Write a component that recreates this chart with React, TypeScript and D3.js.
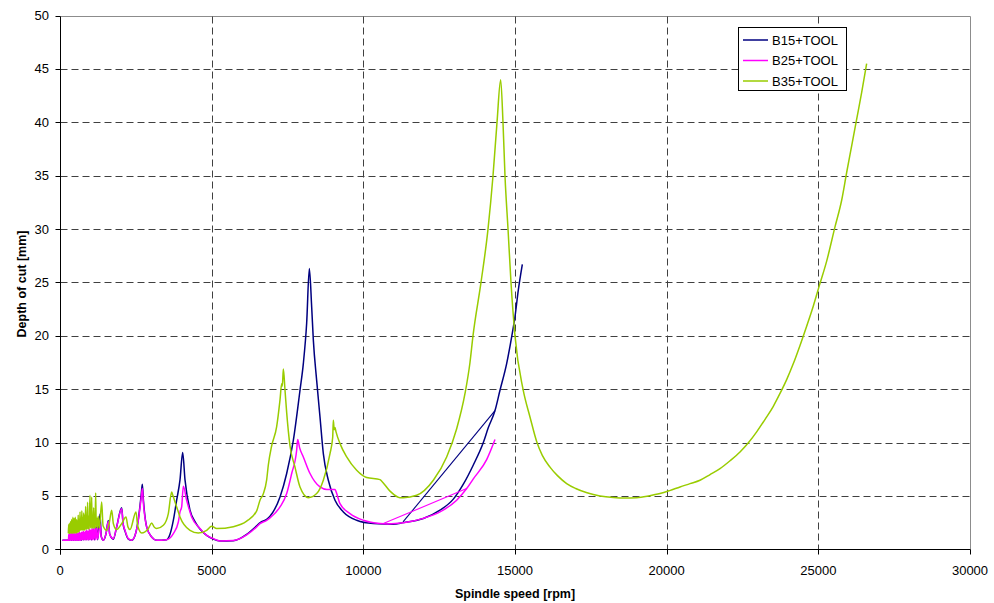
import React from "react";
import * as d3 from "d3";

type P = [number, number];

const xTicks = [0, 5000, 10000, 15000, 20000, 25000, 30000];
const yTicks = [0, 5, 10, 15, 20, 25, 30, 35, 40, 45, 50];
const seriesNames = ["B15+TOOL", "B25+TOOL", "B35+TOOL"];
const seriesColors = ["#000080", "#FF00FF", "#99CC00"];

const b15: P[] = [
  [80, 0.85], [280, 0.85], [300, 1.3], [320, 0.85], [350, 1.4], [380, 0.85], [410, 1.4], [440, 0.85],
  [470, 1.4], [500, 0.85], [530, 1.4], [560, 0.85], [600, 1.4], [620, 0.85], [680, 1.4], [700, 0.85],
  [760, 1.5], [780, 0.9], [840, 1.5], [860, 0.9], [920, 1.6], [950, 0.9], [1010, 1.7], [1040, 0.9],
  [1100, 1.9], [1140, 0.9], [1200, 2.2], [1240, 0.9], [1320, 3.3], [1360, 1.2], [1429, 0.85], [1520, 1.5],
  [1593, 2.7], [1640, 1.4], [1758, 0.95], [1868, 2.1], [2033, 3.9], [2080, 2.4], [2143, 1.7], [2253, 0.95],
  [2363, 0.85], [2473, 1.3], [2582, 2.8], [2680, 5.2], [2714, 6.1], [2750, 4.6], [2857, 2.1], [3022, 1.15],
  [3187, 0.84], [3516, 0.9], [3626, 1.4], [3736, 2.7], [3846, 4.6], [3956, 6.5], [4044, 9.07], [4121, 6.5],
  [4286, 3.66], [4450, 2.6], [4615, 1.9], [4835, 1.3], [5055, 0.95], [5275, 0.78], [5714, 0.8], [6154, 1.4],
  [6484, 2.2], [6600, 2.5], [6813, 2.8], [6923, 3.1], [7253, 4.9], [7473, 7.1], [7692, 10.2], [7912, 14.9],
  [8022, 17.4], [8132, 21.2], [8220, 26.3], [8297, 22.7], [8352, 19.6], [8462, 15.8], [8571, 12.4],
  [8681, 8.97], [8846, 6.47], [9066, 4.6], [9341, 3.5], [9780, 2.72], [10330, 2.41], [10989, 2.34],
  [11318, 2.5], [11978, 2.88], [12527, 3.66], [12967, 4.7], [13297, 6.1], [13626, 7.9], [13956, 10.0],
  [14121, 11.4], [14341, 13.0], [14505, 14.9], [14725, 17.4], [14890, 19.9], [15000, 21.8], [15110, 24.3],
  [15242, 26.7],
];
const b15Jump: P[] = [[11308, 2.56], [14341, 13.0]];

const b25: P[] = [
  [80, 0.85], [280, 0.85], [290, 1.4], [300, 0.85], [315, 1.5], [330, 0.85], [345, 1.4], [360, 0.85],
  [375, 1.5], [390, 0.85], [405, 1.4], [420, 0.85], [435, 1.5], [450, 0.85], [465, 1.4], [480, 0.85],
  [495, 1.5], [510, 0.85], [525, 1.4], [540, 0.85], [555, 1.5], [570, 0.85], [585, 1.5], [600, 0.85],
  [615, 1.5], [630, 0.85], [645, 1.6], [660, 0.85], [675, 1.5], [690, 0.85], [705, 1.6], [720, 0.9],
  [740, 1.6], [755, 0.9], [775, 1.7], [790, 0.9], [810, 1.6], [825, 0.9], [845, 1.7], [860, 0.9],
  [880, 1.8], [900, 0.9], [920, 1.7], [940, 0.9], [965, 1.9], [985, 0.9], [1010, 1.8], [1030, 0.9],
  [1055, 2.0], [1075, 0.9], [1100, 1.9], [1125, 0.9], [1155, 2.1], [1180, 0.9], [1210, 2.0], [1240, 0.95],
  [1319, 2.4], [1360, 1.2], [1429, 0.85], [1520, 1.5], [1593, 2.6], [1640, 1.4], [1758, 1.0], [1868, 2.1],
  [2033, 3.8], [2080, 2.4], [2143, 1.78], [2253, 1.0], [2363, 0.85], [2473, 1.31], [2582, 2.72],
  [2680, 4.9], [2714, 5.69], [2750, 4.3], [2857, 2.09], [3022, 1.15], [3187, 0.84], [3516, 0.9],
  [3736, 1.47], [3901, 2.56], [3956, 3.5], [4011, 3.97], [4066, 5.9], [4176, 4.6], [4341, 3.03],
  [4615, 1.94], [4835, 1.3], [5055, 1.0], [5275, 0.78], [5714, 0.82], [6154, 1.35], [6484, 2.1],
  [6593, 2.4], [6813, 2.72], [6923, 2.95], [7253, 3.97], [7473, 5.22], [7638, 7.1], [7802, 9.28],
  [7835, 10.28], [7900, 9.5], [8022, 8.65], [8242, 7.1], [8571, 5.84], [8800, 5.6], [9066, 5.6],
  [9100, 5.4], [9231, 4.28], [9560, 3.35], [10000, 2.72], [10549, 2.41], [10800, 2.38], [11318, 2.48],
  [11978, 2.9], [12527, 3.5], [13077, 4.6], [13407, 5.69], [13626, 6.6], [14066, 8.4], [14341, 10.28],
];
const b25Jump: P[] = [[10659, 2.41], [13407, 5.69]];

const b35: P[] = [
  [275, 1.5], [285, 2.3], [295, 1.5], [305, 2.4], [315, 1.5], [325, 2.2], [335, 1.5], [345, 2.6],
  [355, 1.6], [365, 2.3], [375, 1.5], [385, 2.8], [395, 1.6], [405, 2.5], [415, 1.5], [425, 3.0],
  [435, 1.6], [445, 2.7], [455, 1.5], [465, 2.9], [475, 1.6], [485, 2.6], [495, 1.5], [505, 3.0],
  [515, 1.6], [525, 2.7], [535, 1.5], [545, 2.8], [555, 1.6], [570, 2.6], [585, 1.6], [600, 3.2],
  [615, 1.6], [630, 2.8], [645, 1.7], [660, 3.5], [675, 1.8], [690, 2.9], [705, 1.8], [720, 3.6],
  [735, 1.8], [750, 2.9], [765, 1.8], [780, 3.4], [795, 1.8], [810, 3.2], [825, 1.8], [845, 4.0],
  [860, 1.9], [875, 3.0], [890, 1.9], [910, 4.4], [925, 1.9], [945, 3.1], [960, 1.9], [989, 5.06],
  [1005, 2.0], [1020, 3.4], [1030, 2.0], [1044, 4.9], [1060, 2.0], [1075, 3.0], [1090, 2.0],
  [1110, 3.9], [1125, 2.0], [1140, 2.8], [1155, 2.0], [1176, 5.28], [1195, 2.1], [1220, 2.9],
  [1240, 2.0], [1260, 3.1], [1300, 2.0], [1374, 4.43], [1420, 2.2], [1538, 1.78], [1620, 2.4],
  [1703, 3.66], [1760, 2.4], [1868, 1.85], [2033, 2.4], [2176, 3.03], [2240, 2.1], [2308, 1.85],
  [2505, 3.5], [2560, 2.2], [2692, 1.53], [2912, 1.94], [3022, 2.47], [3100, 2.1], [3187, 1.94],
  [3407, 2.25], [3571, 3.35], [3681, 5.37], [3714, 5.1], [3846, 3.97], [3956, 3.03], [4286, 1.78],
  [4560, 1.53], [4835, 1.78], [5000, 2.16], [5165, 1.94], [5714, 2.12], [6154, 2.64], [6484, 3.6],
  [6593, 4.6], [6703, 5.2], [6813, 6.5], [6868, 7.9], [6978, 9.7], [7143, 11.5], [7253, 14.0],
  [7308, 15.5], [7330, 15.3], [7363, 16.9], [7418, 14.9], [7473, 12.8], [7582, 9.7], [7747, 7.7],
  [7912, 5.84], [8187, 4.84], [8462, 5.22], [8681, 6.47], [8901, 8.97], [8990, 10.5], [9011, 12.1],
  [9040, 11.2], [9066, 11.4], [9100, 11.0], [9231, 9.9], [9451, 8.65], [9780, 7.4], [10110, 6.72],
  [10549, 6.53], [10600, 6.4], [10879, 5.45], [11209, 4.84], [11318, 4.84], [11758, 5.06],
  [12308, 6.47], [12747, 8.65], [13077, 11.3], [13352, 14.6], [13516, 17.5], [13615, 20.0],
  [13879, 25.0], [14110, 30.0], [14275, 35.0], [14407, 40.0], [14527, 44.0], [14604, 40.0],
  [14670, 35.0], [14770, 30.0], [14868, 25.0], [15000, 20.0], [15264, 15.0], [15494, 12.4],
  [15725, 10.0], [15900, 8.8], [16154, 7.7], [16400, 6.9], [16703, 6.16], [17000, 5.7], [17374, 5.3],
  [17800, 5.0], [18242, 4.85], [18600, 4.8], [19011, 4.84], [19400, 5.0], [19780, 5.22], [20100, 5.5],
  [20440, 5.84], [20770, 6.15], [21099, 6.47], [21430, 7.0], [21758, 7.56], [22090, 8.3],
  [22418, 9.12], [22700, 10.0], [22967, 11.0], [23250, 12.2], [23516, 13.4], [23736, 14.6],
  [23956, 15.9], [24176, 17.4], [24396, 19.1], [24615, 20.9], [24835, 22.8], [25033, 24.7],
  [25275, 27.0], [25549, 30.2], [25769, 32.7], [25934, 35.3], [26099, 37.8], [26264, 40.3],
  [26429, 42.8], [26593, 45.5],
];

const W = 994;
const H = 603;
const font = "'Liberation Sans', Arial, sans-serif";

export default function App() {
  const x = d3.scaleLinear().domain([0, 30000]).range([60, 970]);
  const y = d3.scaleLinear().domain([0, 50]).range([549.3, 15.6]);
  const smooth = d3
    .line<P>()
    .x((d) => x(d[0]))
    .y((d) => y(d[1]))
    .curve(d3.curveMonotoneX);
  const straight = d3
    .line<P>()
    .x((d) => x(d[0]))
    .y((d) => y(d[1]));
  const px = (v: number) => Math.round(x(v)) + 0.5;
  const py = (v: number) => Math.round(y(v)) + 0.5;
  const left = px(0);
  const right = px(30000);
  const top = py(50);
  const bottom = py(0);

  const series: { data: P[]; jump?: P[]; color: string }[] = [
    { data: b15, jump: b15Jump, color: seriesColors[0] },
    { data: b25, jump: b25Jump, color: seriesColors[1] },
    { data: b35, color: seriesColors[2] },
  ];

  return (
    <svg
      width={W}
      height={H}
      style={{ position: "absolute", left: 0, top: 0, background: "#fff" }}
      fontFamily={font}
    >
      <rect x={0} y={0} width={W} height={H} fill="#fff" />
      <line x1={left} x2={right} y1={top} y2={top} stroke="#8c8c8c" strokeWidth={1} />
      <line x1={right} x2={right} y1={top} y2={bottom} stroke="#8c8c8c" strokeWidth={1} />
      {yTicks.slice(1, -1).map((v) => (
        <line key={"gy" + v} x1={left} x2={right} y1={py(v)} y2={py(v)} stroke="#404040" strokeWidth={1} strokeDasharray="7,4" />
      ))}
      {xTicks.slice(1, -1).map((v) => (
        <line key={"gx" + v} x1={px(v)} x2={px(v)} y1={top} y2={bottom} stroke="#404040" strokeWidth={1} strokeDasharray="7,4" />
      ))}
      {series.map((s, i) => (
        <g key={"s" + i}>
          <path d={smooth(s.data) || ""} fill="none" stroke={s.color} strokeWidth={1.5} strokeLinejoin="round" />
          {s.jump && <path d={straight(s.jump) || ""} fill="none" stroke={s.color} strokeWidth={1.1} />}
        </g>
      ))}
      <line x1={left} x2={left} y1={top} y2={bottom + 5} stroke="#000" strokeWidth={1} />
      <line x1={left - 5} x2={right} y1={bottom} y2={bottom} stroke="#000" strokeWidth={1} />
      {yTicks.map((v) => (
        <g key={"ty" + v}>
          <line x1={left - 5} x2={left} y1={py(v)} y2={py(v)} stroke="#000" />
          <text x={49} y={y(v) + 4.5} textAnchor="end" fontSize={13} fill="#000">
            {v}
          </text>
        </g>
      ))}
      {xTicks.map((v) => (
        <g key={"tx" + v}>
          <line x1={px(v)} x2={px(v)} y1={bottom} y2={bottom + 5} stroke="#000" />
          <text x={x(v)} y={575} textAnchor="middle" fontSize={13} fill="#000">
            {v}
          </text>
        </g>
      ))}
      <text x={515} y={598} textAnchor="middle" fontSize={12.5} fontWeight="bold" fill="#000">
        Spindle speed [rpm]
      </text>
      <text transform="translate(26, 284) rotate(-90)" textAnchor="middle" fontSize={12.5} fontWeight="bold" fill="#000">
        Depth of cut [mm]
      </text>
      <rect x={738.5} y={27.5} width={108} height={63} fill="#fff" stroke="#000" strokeWidth={1} />
      {seriesNames.map((n, i) => {
        const ly = 40 + i * 20.5;
        return (
          <g key={"lg" + n}>
            <line x1={743} x2={768} y1={ly} y2={ly} stroke={seriesColors[i]} strokeWidth={1.5} />
            <text x={772} y={ly + 4.5} fontSize={13} fill="#000">
              {n}
            </text>
          </g>
        );
      })}
    </svg>
  );
}
